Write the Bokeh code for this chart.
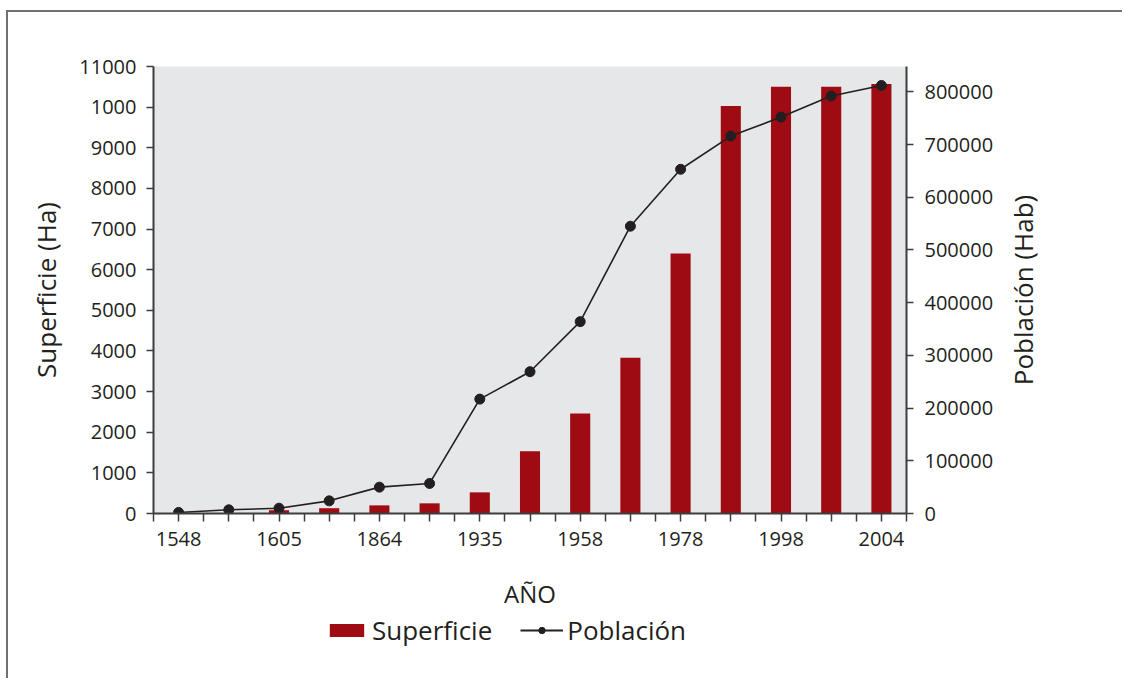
import math
from bokeh.plotting import figure
from bokeh.layouts import column, row
from bokeh.models import Range1d, LinearAxis, FixedTicker, Legend, LegendItem, ColumnDataSource, Label
from bokeh.embed import file_html
from bokeh.resources import INLINE

# ---- data ----
year_labels = ["1548", "", "1605", "", "1864", "", "1935", "", "1958", "", "1978", "", "1998", "", "2004"]
superficie = [0, 0, 80, 130, 200, 250, 520, 1530, 2460, 3830, 6400, 10030, 10500, 10500, 10570]
poblacion = [2000, 7000, 10000, 24000, 50000, 57000, 217000, 269000, 364000, 545000,
             653000, 716000, 752000, 792000, 812000]
left_ticks = [0, 1000, 2000, 3000, 4000, 5000, 6000, 7000, 8000, 9000, 10000, 11000]
left_tick_labels = ["0", "1000", "2000", "3000", "4000", "5000", "6000", "7000", "8000", "9000", "1000", "11000"]
right_ticks = [0, 100000, 200000, 300000, 400000, 500000, 600000, 700000, 800000]
right_tick_labels = ["0", "100000", "200000", "300000", "400000", "500000", "600000", "700000", "800000"]

FONT = "Open Sans"
TXT = "#231f20"
AX = "#3d3d3d"
BAR = "#9e0b12"

n = len(year_labels)
xpos = [2 * i + 1 for i in range(n)]
src = ColumnDataSource(dict(x=xpos, sup=superficie, pob=poblacion, lab=year_labels))

# canvas starts at x=8, y=12; frame spans x 153..906, y 66..514
PW, PH = 997, 600
TW = 117
p = figure(width=PW, height=PH, x_range=Range1d(0, 2 * n), y_range=Range1d(0, 11000),
           output_backend="svg", toolbar_location=None,
           min_border_left=145, min_border_right=PW - 898, min_border_top=54, min_border_bottom=98,
           background_fill_color="#e6e7e8", border_fill_color="white", outline_line_color=None)
p.grid.visible = False
p.extra_y_ranges = {"pop": Range1d(0, 848000)}

bars = p.vbar(x="x", top="sup", width=0.8, source=src, fill_color=BAR, line_color=None)
line = p.line(x="x", y="pob", source=src, y_range_name="pop", line_color=TXT, line_width=1.6)
dots = p.scatter(x="x", y="pob", source=src, y_range_name="pop", size=10,
                 fill_color=TXT, line_color=TXT)

def style_axis(ax):
    ax.axis_line_color = AX
    ax.axis_line_width = 2
    ax.major_tick_line_color = AX
    ax.major_tick_line_width = 1.5
    ax.minor_tick_line_color = None
    ax.major_tick_in = 0
    ax.major_label_text_font = FONT
    ax.major_label_text_font_size = "20px"
    ax.major_label_text_color = TXT
    ax.axis_label_text_font = FONT
    ax.axis_label_text_font_style = "normal"
    ax.axis_label_text_color = TXT
    ax.axis_label_text_font_size = "26px"

# x axis
xa = p.xaxis[0]
style_axis(xa)
xticks = list(range(0, 2 * n + 1))
xa.ticker = FixedTicker(ticks=xticks)
xa.major_label_overrides = {t: (year_labels[(t - 1) // 2] if t % 2 == 1 else "") for t in xticks}
xa.major_tick_out = 8
xa.major_label_standoff = 10
xa.axis_label = "AÑO"
xa.axis_label_text_font_size = "24px"
xa.axis_label_standoff = 28

# left axis
ya = p.yaxis[0]
style_axis(ya)
ya.ticker = FixedTicker(ticks=left_ticks)
ya.major_label_overrides = dict(zip(left_ticks, left_tick_labels))
ya.major_tick_out = 7
ya.major_label_standoff = 10
ya.axis_label = "Superficie (Ha)"
ya.axis_label_standoff = 12

# right axis (its title is drawn in the narrow strip to the right)
ra = LinearAxis(y_range_name="pop", ticker=FixedTicker(ticks=right_ticks),
                major_label_overrides=dict(zip(right_ticks, right_tick_labels)))
style_axis(ra)
ra.major_tick_out = 7
ra.major_label_standoff = 11
p.add_layout(ra, "right")

# strip holding the right-hand axis title, reading bottom to top
tf = figure(width=TW, height=PH, x_range=Range1d(0, 1), y_range=Range1d(0, 1),
            output_backend="svg", toolbar_location=None, x_axis_location=None, y_axis_location=None,
            min_border_left=0, min_border_right=0, min_border_top=54, min_border_bottom=98,
            outline_line_color=None, background_fill_color="white", border_fill_color="white")
tf.grid.visible = False
tf.add_layout(Label(x=17.5, x_units="screen", y=0.5, text="Población (Hab)", angle=math.pi / 2,
                    text_align="center", text_baseline="middle", text_font=FONT,
                    text_font_size="26px", text_color=TXT))

# legend strip below the chart
LW = PW + TW
lf = figure(width=LW, height=66, x_range=Range1d(0, 2 * n), y_range=Range1d(0, 11000),
            output_backend="svg", toolbar_location=None, x_axis_location=None, y_axis_location=None,
            min_border_left=145, min_border_right=LW - 898, min_border_top=0, min_border_bottom=0,
            outline_line_color=None, background_fill_color="white", border_fill_color="white")
lf.grid.visible = False
lbar = lf.vbar(x="x", top="sup", source=src, width=0.8, fill_color=BAR, line_color=None, visible=False)
lline = lf.line(x="x", y="pob", source=src, line_color=TXT, line_width=2.2, visible=False)
ldot = lf.scatter(x="x", y="pob", source=src, size=10, fill_color=TXT, line_color=TXT, visible=False)
legend = Legend(items=[LegendItem(label="Superficie", renderers=[lbar]),
                       LegendItem(label="Población", renderers=[lline, ldot])],
                orientation="horizontal", location=(172, 30),
                glyph_width=43, glyph_height=16, label_standoff=4, spacing=28,
                padding=0, margin=0, border_line_color=None, background_fill_alpha=0,
                inactive_fill_alpha=0,
                label_text_font=FONT, label_text_font_size="26px", label_text_color=TXT)
lf.add_layout(legend, "center")

layout = column(row(p, tf, spacing=0), lf, spacing=0,
                styles={"border-top": "2px solid #707070", "border-left": "2px solid #707070",
                        "margin-left": "6px", "margin-top": "10px"})

open("out.html", "w").write(file_html(layout, INLINE))
